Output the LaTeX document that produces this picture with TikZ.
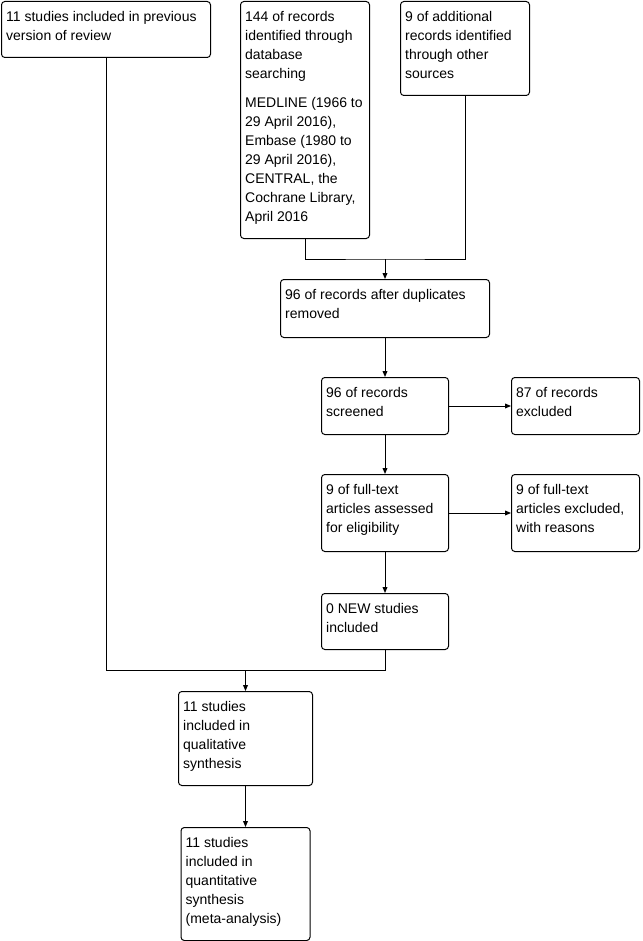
\documentclass[tikz,border=0pt]{standalone}
\usepackage{fontspec}
\setmainfont{Liberation Sans}
\usetikzlibrary{arrows.meta,positioning}

\begin{document}
\begin{tikzpicture}[x=0.75pt,y=-0.75pt,>={Triangle[length=4.5pt,width=3.6pt]}]
 \tikzset{box/.style 2 args={rectangle,rounded corners=2.5pt,draw=black,line width=0.75pt,anchor=north west,
   inner xsep=3.5pt,inner ysep=7.5pt,minimum width=0.75pt*#1,minimum height=0.75pt*#2,
   font=\fontsize{10.5pt}{14.25pt}\selectfont,
   execute at begin node={\begin{minipage}[t][\dimexpr0.75pt*#2-15pt\relax][t]{\dimexpr0.75pt*#1-7pt\relax}\raggedright},
   execute at end node={\end{minipage}}}}
 \tikzstyle{link}=[black,line width=0.75pt]
 \useasboundingbox (0,0) rectangle (642,941);
 \node[box={209}{56}] (prev) at (1,1) {11 studies included in previous\\version of review};
 \node[box={129}{237}] (db) at (240,1) {144 of records\\identified through\\database\\searching\\[7.5pt]MEDLINE (1966 to\\29 April 2016),\\Embase (1980 to\\29 April 2016),\\CENTRAL, the\\Cochrane Library,\\April 2016};
 \node[box={129}{94}] (other) at (400,1) {9 of additional\\records identified\\through other\\sources};
 \node[box={209}{58}] (dup) at (280,279) {96 of records after duplicates\\removed};
 \node[box={127}{57}] (screened) at (321,377) {96 of records\\screened};
 \node[box={128}{57}] (excl) at (511,377) {87 of records\\excluded};
 \node[box={127}{77}] (fulltext) at (321,474) {9 of full-text\\articles assessed\\for eligibility};
 \node[box={128}{77}] (ftexcl) at (511,474) {9 of full-text\\articles excluded,\\with reasons};
 \node[box={127}{56}] (new) at (321,593) {0 NEW studies\\included};
 \node[box={134}{94}] (qual) at (178,691) {11 studies\\included in\\qualitative\\synthesis};
 \node[box={129}{113}] (quant) at (180.5,827) {11 studies\\included in\\quantitative\\synthesis\\(meta-analysis)};
 % joins
 \coordinate (merge) at (dup.north |- 0,259);
 \coordinate (gather) at (qual.north |- 0,670);
 \draw[link] (db.south) |- (merge) -| (other.south);
 \draw[link,->] (merge) -- (dup.north);
 \draw[link,->] (dup.south) -- (screened.north);
 \draw[link,->] (screened.east) -- (excl.west);
 \draw[link,->] (screened.south) -- (fulltext.north);
 \draw[link,->] (fulltext.east) -- (ftexcl.west);
 \draw[link,->] (fulltext.south) -- (new.north);
 \draw[link] (new.south) |- (prev.south |- gather) -- (prev.south);
 \draw[link,->] (gather) -- (qual.north);
 \draw[link,->] (qual.south) -- (quant.north);
\end{tikzpicture}
\end{document}
